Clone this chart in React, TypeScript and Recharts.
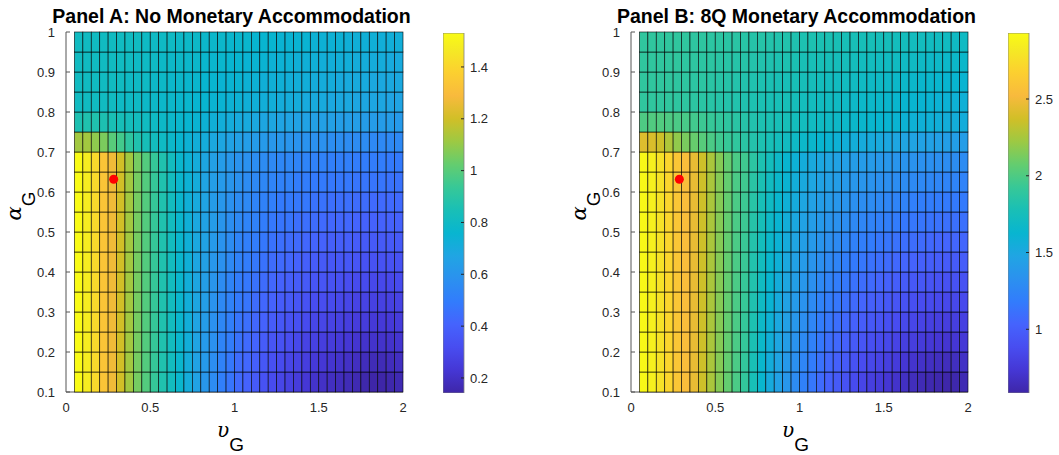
import { Bar, BarChart, Scatter, ScatterChart, XAxis, YAxis } from "recharts";

// grid of the pcolor surface (lower-left corner of every cell)
const vGrid = [0.05, 0.1, 0.15, 0.2, 0.25, 0.3, 0.35, 0.4, 0.45, 0.5, 0.55, 0.6, 0.65, 0.7, 0.75, 0.8, 0.85, 0.9, 0.95, 1, 1.05, 1.1, 1.15, 1.2, 1.25, 1.3, 1.35, 1.4, 1.45, 1.5, 1.55, 1.6, 1.65, 1.7, 1.75, 1.8, 1.85, 1.9, 1.95];
const alphaGrid = [0.1, 0.15, 0.2, 0.25, 0.3, 0.35, 0.4, 0.45, 0.5, 0.55, 0.6, 0.65, 0.7, 0.75, 0.8, 0.85, 0.9, 0.95];
const cellStep = 0.05;

const xTicks = [0, 0.5, 1, 1.5, 2];
const yTicks = [0.1, 0.2, 0.3, 0.4, 0.5, 0.6, 0.7, 0.8, 0.9, 1];

// Panel A: rows from alpha = 0.1 (bottom) to 0.95 (top)
const panelAValues: number[][] = [
  [1.53, 1.48, 1.41, 1.33, 1.27, 1.20, 1.12, 1.05, 0.99, 0.93, 0.87, 0.82, 0.77, 0.71, 0.66, 0.61, 0.56, 0.51, 0.47, 0.43, 0.40, 0.37, 0.34, 0.31, 0.29, 0.27, 0.25, 0.23, 0.21, 0.20, 0.19, 0.18, 0.17, 0.16, 0.15, 0.14, 0.14, 0.15, 0.16],
  [1.53, 1.48, 1.41, 1.33, 1.27, 1.20, 1.12, 1.05, 0.99, 0.93, 0.87, 0.82, 0.77, 0.71, 0.66, 0.62, 0.57, 0.52, 0.48, 0.44, 0.42, 0.39, 0.36, 0.33, 0.31, 0.29, 0.28, 0.26, 0.24, 0.23, 0.22, 0.21, 0.20, 0.19, 0.18, 0.17, 0.17, 0.18, 0.19],
  [1.53, 1.48, 1.41, 1.33, 1.27, 1.20, 1.12, 1.05, 0.99, 0.93, 0.87, 0.82, 0.77, 0.72, 0.67, 0.62, 0.58, 0.53, 0.50, 0.46, 0.43, 0.41, 0.38, 0.35, 0.34, 0.32, 0.30, 0.28, 0.27, 0.26, 0.25, 0.24, 0.23, 0.22, 0.21, 0.21, 0.21, 0.21, 0.22],
  [1.53, 1.48, 1.41, 1.33, 1.27, 1.20, 1.12, 1.05, 0.99, 0.93, 0.87, 0.82, 0.77, 0.72, 0.67, 0.63, 0.58, 0.54, 0.51, 0.47, 0.45, 0.42, 0.40, 0.38, 0.36, 0.34, 0.33, 0.31, 0.29, 0.29, 0.28, 0.27, 0.26, 0.25, 0.25, 0.24, 0.24, 0.24, 0.25],
  [1.53, 1.48, 1.41, 1.33, 1.27, 1.20, 1.12, 1.05, 0.99, 0.93, 0.87, 0.82, 0.77, 0.72, 0.68, 0.64, 0.59, 0.55, 0.52, 0.49, 0.47, 0.44, 0.42, 0.40, 0.38, 0.37, 0.35, 0.34, 0.32, 0.32, 0.31, 0.30, 0.29, 0.28, 0.28, 0.27, 0.27, 0.27, 0.28],
  [1.53, 1.48, 1.41, 1.33, 1.27, 1.20, 1.12, 1.05, 0.99, 0.93, 0.87, 0.82, 0.77, 0.72, 0.68, 0.64, 0.60, 0.56, 0.53, 0.50, 0.48, 0.46, 0.44, 0.42, 0.40, 0.39, 0.38, 0.37, 0.35, 0.35, 0.34, 0.33, 0.32, 0.31, 0.31, 0.30, 0.30, 0.30, 0.31],
  [1.53, 1.48, 1.41, 1.33, 1.27, 1.20, 1.12, 1.05, 0.99, 0.93, 0.87, 0.82, 0.77, 0.73, 0.68, 0.65, 0.61, 0.58, 0.55, 0.52, 0.50, 0.48, 0.46, 0.44, 0.43, 0.42, 0.40, 0.39, 0.38, 0.37, 0.36, 0.36, 0.36, 0.35, 0.34, 0.34, 0.34, 0.34, 0.34],
  [1.53, 1.48, 1.41, 1.33, 1.27, 1.20, 1.12, 1.05, 0.99, 0.93, 0.87, 0.82, 0.77, 0.73, 0.69, 0.66, 0.62, 0.59, 0.56, 0.53, 0.51, 0.50, 0.48, 0.46, 0.45, 0.44, 0.43, 0.42, 0.41, 0.40, 0.39, 0.39, 0.39, 0.38, 0.37, 0.37, 0.37, 0.37, 0.37],
  [1.53, 1.48, 1.41, 1.33, 1.27, 1.20, 1.12, 1.05, 0.99, 0.93, 0.87, 0.82, 0.77, 0.73, 0.69, 0.66, 0.63, 0.60, 0.57, 0.55, 0.53, 0.52, 0.50, 0.48, 0.47, 0.47, 0.45, 0.45, 0.44, 0.43, 0.42, 0.42, 0.42, 0.41, 0.40, 0.40, 0.40, 0.40, 0.40],
  [1.53, 1.48, 1.41, 1.33, 1.27, 1.20, 1.12, 1.05, 0.99, 0.93, 0.87, 0.82, 0.77, 0.73, 0.70, 0.67, 0.63, 0.61, 0.58, 0.56, 0.55, 0.53, 0.52, 0.51, 0.49, 0.49, 0.48, 0.48, 0.46, 0.46, 0.45, 0.45, 0.45, 0.44, 0.44, 0.43, 0.43, 0.43, 0.43],
  [1.53, 1.48, 1.41, 1.33, 1.27, 1.20, 1.12, 1.05, 0.99, 0.93, 0.87, 0.82, 0.77, 0.74, 0.71, 0.67, 0.64, 0.62, 0.60, 0.58, 0.56, 0.55, 0.54, 0.53, 0.52, 0.52, 0.50, 0.50, 0.49, 0.49, 0.48, 0.48, 0.48, 0.47, 0.47, 0.47, 0.47, 0.46, 0.46],
  [1.53, 1.48, 1.41, 1.33, 1.27, 1.20, 1.12, 1.05, 0.99, 0.93, 0.87, 0.82, 0.77, 0.74, 0.71, 0.68, 0.65, 0.63, 0.61, 0.59, 0.58, 0.57, 0.56, 0.55, 0.54, 0.54, 0.53, 0.53, 0.52, 0.52, 0.51, 0.51, 0.51, 0.50, 0.50, 0.50, 0.50, 0.49, 0.49],
  [1.12, 1.12, 1.09, 1.06, 1.00, 0.96, 0.91, 0.87, 0.84, 0.82, 0.80, 0.78, 0.76, 0.74, 0.72, 0.71, 0.69, 0.68, 0.66, 0.65, 0.64, 0.63, 0.62, 0.61, 0.61, 0.60, 0.59, 0.59, 0.58, 0.58, 0.57, 0.57, 0.56, 0.56, 0.56, 0.55, 0.55, 0.55, 0.55],
  [0.86, 0.87, 0.87, 0.86, 0.85, 0.84, 0.83, 0.82, 0.81, 0.80, 0.79, 0.78, 0.77, 0.76, 0.75, 0.74, 0.73, 0.72, 0.71, 0.70, 0.70, 0.69, 0.68, 0.68, 0.67, 0.67, 0.66, 0.66, 0.65, 0.65, 0.65, 0.64, 0.64, 0.64, 0.63, 0.63, 0.63, 0.63, 0.62],
  [0.81, 0.81, 0.81, 0.81, 0.81, 0.80, 0.80, 0.80, 0.79, 0.79, 0.78, 0.78, 0.77, 0.77, 0.76, 0.76, 0.75, 0.75, 0.74, 0.74, 0.73, 0.73, 0.72, 0.72, 0.71, 0.71, 0.71, 0.70, 0.70, 0.70, 0.69, 0.69, 0.69, 0.68, 0.68, 0.68, 0.68, 0.67, 0.67],
  [0.81, 0.81, 0.81, 0.81, 0.81, 0.81, 0.80, 0.80, 0.80, 0.79, 0.79, 0.78, 0.78, 0.77, 0.77, 0.76, 0.76, 0.75, 0.75, 0.75, 0.74, 0.74, 0.73, 0.73, 0.73, 0.72, 0.72, 0.72, 0.71, 0.71, 0.71, 0.70, 0.70, 0.70, 0.70, 0.69, 0.69, 0.69, 0.69],
  [0.81, 0.81, 0.81, 0.81, 0.81, 0.81, 0.81, 0.80, 0.80, 0.80, 0.79, 0.79, 0.79, 0.78, 0.78, 0.77, 0.77, 0.77, 0.76, 0.76, 0.75, 0.75, 0.75, 0.74, 0.74, 0.74, 0.73, 0.73, 0.73, 0.72, 0.72, 0.72, 0.72, 0.71, 0.71, 0.71, 0.71, 0.70, 0.70],
  [0.81, 0.81, 0.81, 0.81, 0.81, 0.81, 0.81, 0.81, 0.80, 0.80, 0.80, 0.80, 0.79, 0.79, 0.79, 0.78, 0.78, 0.78, 0.77, 0.77, 0.77, 0.76, 0.76, 0.76, 0.75, 0.75, 0.75, 0.75, 0.74, 0.74, 0.74, 0.74, 0.73, 0.73, 0.73, 0.73, 0.72, 0.72, 0.72],
];

// Panel B: rows from alpha = 0.1 (bottom) to 0.95 (top)
const panelBValues: number[][] = [
  [2.91, 2.86, 2.78, 2.70, 2.60, 2.54, 2.46, 2.36, 2.26, 2.16, 2.07, 1.99, 1.90, 1.77, 1.64, 1.53, 1.45, 1.37, 1.29, 1.22, 1.15, 1.08, 1.02, 0.97, 0.92, 0.87, 0.83, 0.79, 0.76, 0.73, 0.70, 0.67, 0.65, 0.63, 0.61, 0.60, 0.59, 0.60, 0.62],
  [2.91, 2.86, 2.78, 2.70, 2.60, 2.54, 2.46, 2.36, 2.26, 2.16, 2.07, 1.99, 1.90, 1.78, 1.65, 1.55, 1.47, 1.39, 1.32, 1.25, 1.18, 1.12, 1.06, 1.01, 0.97, 0.92, 0.88, 0.85, 0.82, 0.79, 0.76, 0.73, 0.71, 0.69, 0.67, 0.66, 0.65, 0.66, 0.68],
  [2.91, 2.86, 2.78, 2.70, 2.60, 2.54, 2.46, 2.36, 2.26, 2.16, 2.07, 1.99, 1.91, 1.79, 1.67, 1.57, 1.49, 1.42, 1.34, 1.28, 1.22, 1.16, 1.10, 1.06, 1.01, 0.97, 0.94, 0.90, 0.87, 0.85, 0.82, 0.79, 0.78, 0.76, 0.74, 0.73, 0.72, 0.73, 0.74],
  [2.91, 2.86, 2.78, 2.70, 2.60, 2.54, 2.46, 2.36, 2.26, 2.16, 2.07, 1.99, 1.91, 1.80, 1.68, 1.59, 1.51, 1.44, 1.37, 1.31, 1.25, 1.19, 1.15, 1.10, 1.06, 1.02, 0.99, 0.96, 0.93, 0.90, 0.88, 0.86, 0.84, 0.82, 0.80, 0.79, 0.78, 0.79, 0.80],
  [2.91, 2.86, 2.78, 2.70, 2.60, 2.54, 2.46, 2.36, 2.26, 2.16, 2.07, 1.99, 1.92, 1.81, 1.70, 1.61, 1.53, 1.46, 1.40, 1.34, 1.28, 1.23, 1.19, 1.15, 1.11, 1.07, 1.04, 1.01, 0.99, 0.96, 0.94, 0.92, 0.90, 0.88, 0.87, 0.86, 0.85, 0.85, 0.86],
  [2.91, 2.86, 2.78, 2.70, 2.60, 2.54, 2.46, 2.36, 2.26, 2.16, 2.07, 1.99, 1.92, 1.82, 1.71, 1.63, 1.55, 1.49, 1.43, 1.37, 1.32, 1.27, 1.23, 1.19, 1.16, 1.12, 1.09, 1.07, 1.04, 1.02, 1.00, 0.98, 0.96, 0.95, 0.93, 0.92, 0.91, 0.92, 0.92],
  [2.91, 2.86, 2.78, 2.70, 2.60, 2.54, 2.46, 2.36, 2.26, 2.16, 2.07, 1.99, 1.93, 1.82, 1.73, 1.64, 1.58, 1.51, 1.45, 1.40, 1.35, 1.31, 1.27, 1.24, 1.20, 1.17, 1.15, 1.12, 1.10, 1.08, 1.06, 1.04, 1.03, 1.01, 1.00, 0.99, 0.98, 0.98, 0.99],
  [2.91, 2.86, 2.78, 2.70, 2.60, 2.54, 2.46, 2.36, 2.26, 2.16, 2.07, 1.99, 1.93, 1.83, 1.74, 1.66, 1.60, 1.54, 1.48, 1.43, 1.39, 1.35, 1.31, 1.28, 1.25, 1.22, 1.20, 1.18, 1.15, 1.14, 1.12, 1.10, 1.09, 1.08, 1.06, 1.05, 1.04, 1.05, 1.05],
  [2.91, 2.86, 2.78, 2.70, 2.60, 2.54, 2.46, 2.36, 2.26, 2.16, 2.07, 1.99, 1.94, 1.84, 1.76, 1.68, 1.62, 1.56, 1.51, 1.46, 1.42, 1.39, 1.35, 1.33, 1.30, 1.27, 1.25, 1.23, 1.21, 1.20, 1.18, 1.16, 1.15, 1.14, 1.13, 1.12, 1.11, 1.11, 1.11],
  [2.91, 2.86, 2.78, 2.70, 2.60, 2.54, 2.46, 2.36, 2.26, 2.16, 2.07, 1.99, 1.94, 1.85, 1.77, 1.70, 1.64, 1.58, 1.54, 1.49, 1.45, 1.42, 1.40, 1.37, 1.35, 1.32, 1.30, 1.29, 1.27, 1.25, 1.24, 1.23, 1.21, 1.20, 1.19, 1.18, 1.17, 1.17, 1.17],
  [2.91, 2.86, 2.78, 2.70, 2.60, 2.54, 2.46, 2.36, 2.26, 2.16, 2.07, 1.99, 1.95, 1.86, 1.79, 1.72, 1.66, 1.61, 1.56, 1.52, 1.49, 1.46, 1.44, 1.42, 1.39, 1.37, 1.36, 1.34, 1.32, 1.31, 1.30, 1.29, 1.28, 1.27, 1.26, 1.25, 1.24, 1.24, 1.23],
  [2.91, 2.86, 2.78, 2.70, 2.60, 2.54, 2.46, 2.36, 2.26, 2.16, 2.07, 1.99, 1.95, 1.87, 1.80, 1.74, 1.68, 1.63, 1.59, 1.55, 1.52, 1.50, 1.48, 1.46, 1.44, 1.42, 1.41, 1.40, 1.38, 1.37, 1.36, 1.35, 1.34, 1.33, 1.32, 1.31, 1.30, 1.30, 1.29],
  [2.42, 2.40, 2.36, 2.27, 2.19, 2.13, 2.08, 2.03, 1.99, 1.95, 1.92, 1.89, 1.86, 1.83, 1.80, 1.77, 1.74, 1.72, 1.69, 1.67, 1.65, 1.63, 1.61, 1.59, 1.57, 1.56, 1.54, 1.53, 1.52, 1.50, 1.49, 1.48, 1.47, 1.46, 1.45, 1.44, 1.43, 1.43, 1.42],
  [2.00, 2.01, 2.01, 2.00, 1.99, 1.98, 1.96, 1.94, 1.92, 1.90, 1.88, 1.86, 1.84, 1.82, 1.80, 1.79, 1.77, 1.76, 1.74, 1.73, 1.71, 1.70, 1.69, 1.68, 1.67, 1.66, 1.65, 1.64, 1.63, 1.62, 1.61, 1.60, 1.59, 1.58, 1.58, 1.57, 1.56, 1.56, 1.55],
  [1.89, 1.89, 1.89, 1.89, 1.88, 1.88, 1.87, 1.86, 1.85, 1.84, 1.83, 1.82, 1.81, 1.80, 1.79, 1.78, 1.77, 1.76, 1.75, 1.74, 1.73, 1.72, 1.71, 1.70, 1.69, 1.68, 1.67, 1.67, 1.66, 1.65, 1.64, 1.63, 1.63, 1.62, 1.61, 1.60, 1.60, 1.59, 1.58],
  [1.89, 1.89, 1.89, 1.89, 1.88, 1.88, 1.87, 1.87, 1.86, 1.85, 1.84, 1.83, 1.82, 1.81, 1.80, 1.79, 1.78, 1.77, 1.77, 1.76, 1.75, 1.74, 1.73, 1.72, 1.72, 1.71, 1.70, 1.69, 1.69, 1.68, 1.67, 1.67, 1.66, 1.65, 1.65, 1.64, 1.63, 1.63, 1.62],
  [1.89, 1.89, 1.89, 1.89, 1.89, 1.88, 1.88, 1.87, 1.87, 1.86, 1.85, 1.84, 1.84, 1.83, 1.82, 1.81, 1.80, 1.80, 1.79, 1.78, 1.77, 1.77, 1.76, 1.75, 1.75, 1.74, 1.73, 1.73, 1.72, 1.71, 1.71, 1.70, 1.70, 1.69, 1.68, 1.68, 1.67, 1.67, 1.66],
  [1.89, 1.89, 1.89, 1.89, 1.89, 1.89, 1.88, 1.88, 1.87, 1.87, 1.86, 1.86, 1.85, 1.84, 1.84, 1.83, 1.82, 1.82, 1.81, 1.80, 1.80, 1.79, 1.79, 1.78, 1.77, 1.77, 1.76, 1.76, 1.75, 1.75, 1.74, 1.74, 1.73, 1.73, 1.72, 1.72, 1.71, 1.70, 1.70],
];

const cbRangeA = [0.142, 1.531];
const cbRangeB = [0.585, 2.93];
const cbTicksA = [0.2, 0.4, 0.6, 0.8, 1, 1.2, 1.4];
const cbTicksB = [1, 1.5, 2, 2.5];

const markerA = { x: 0.283, y: 0.632 };
const markerB = { x: 0.287, y: 0.632 };

// parula colormap (sampled from MATLAB's 64-entry table)
const parulaStops: [number, number, number, number][] = [
  [0 / 63, 0.2422, 0.1504, 0.6603],
  [4 / 63, 0.2706, 0.2147, 0.8364],
  [8 / 63, 0.2813, 0.3006, 0.9414],
  [12 / 63, 0.2699, 0.3892, 0.9906],
  [16 / 63, 0.1963, 0.4847, 0.9892],
  [20 / 63, 0.1687, 0.5703, 0.9359],
  [24 / 63, 0.1248, 0.6459, 0.8883],
  [28 / 63, 0.0297, 0.7082, 0.8163],
  [32 / 63, 0.0964, 0.75, 0.712],
  [36 / 63, 0.2161, 0.7843, 0.5923],
  [40 / 63, 0.3909, 0.8029, 0.4354],
  [44 / 63, 0.6174, 0.7876, 0.2612],
  [48 / 63, 0.8203, 0.7498, 0.1535],
  [52 / 63, 0.9728, 0.7298, 0.2394],
  [56 / 63, 0.9892, 0.8136, 0.1885],
  [60 / 63, 0.9597, 0.9135, 0.1423],
  [63 / 63, 0.9769, 0.9839, 0.0805],
];

function parula(t: number) {
  const u = Math.min(1, Math.max(0, t));
  let i = 0;
  while (i < parulaStops.length - 2 && parulaStops[i + 1][0] < u) i++;
  const a = parulaStops[i];
  const b = parulaStops[i + 1];
  const f = (u - a[0]) / (b[0] - a[0]);
  const ch = (k: number) => Math.round(255 * (a[k] + (b[k] - a[k]) * f));
  return `rgb(${ch(1)},${ch(2)},${ch(3)})`;
}

const FONT = "'Liberation Sans', Arial, Helvetica, sans-serif";
const W = 430;
const H = 455;
const margin = { top: 32, right: 27, bottom: 33, left: 26 };
const yAxisW = 40;
const xAxisH = 30;
const plotW = W - margin.left - margin.right - yAxisW;
const plotH = H - margin.top - margin.bottom - xAxisH;
const cellW = (plotW / 2) * cellStep;
const cellH = (plotH / 0.9) * cellStep;

const tickStyle = { fontSize: 13, fill: "#262626", fontFamily: FONT };

function HeatPanel({
  left,
  title,
  values,
  range,
  marker,
}: {
  left: number;
  title: string;
  values: number[][];
  range: number[];
  marker: { x: number; y: number };
}) {
  const cells = values.flatMap((row, i) =>
    row.map((v, j) => ({ x: vGrid[j] + cellStep / 2, y: alphaGrid[i] + cellStep / 2, v }))
  );
  const [lo, hi] = range;
  const cx = margin.left + yAxisW + plotW / 2;
  return (
    <div style={{ position: "absolute", left, top: 0, width: W, height: H }}>
      <ScatterChart width={W} height={H} margin={margin}>
        <XAxis
          type="number"
          dataKey="x"
          domain={[0, 2]}
          ticks={xTicks}
          height={xAxisH}
          tickLine={false}
          tickSize={-4}
          tickMargin={15}
          tick={tickStyle}
          axisLine={{ stroke: "#555", strokeWidth: 1 }}
        />
        <YAxis
          type="number"
          dataKey="y"
          domain={[0.1, 1]}
          ticks={yTicks}
          width={yAxisW}
          tickSize={-4}
          tickMargin={15}
          tick={tickStyle}
          tickLine={{ stroke: "#555" }}
          axisLine={{ stroke: "#555", strokeWidth: 1 }}
        />
        <Scatter
          data={cells}
          isAnimationActive={false}
          shape={(p: any) => (
            <rect
              x={p.cx - cellW / 2}
              y={p.cy - cellH / 2}
              width={cellW}
              height={cellH}
              fill={parula((p.payload.v - lo) / (hi - lo))}
              stroke="#000"
              strokeWidth={0.7}
              strokeOpacity={0.85}
            />
          )}
        />
        <Scatter
          data={[marker]}
          isAnimationActive={false}
          shape={(p: any) => <circle cx={p.cx} cy={p.cy} r={4.5} fill="#ff0000" />}
        />
      </ScatterChart>
      <svg width={W} height={H} style={{ position: "absolute", left: 0, top: 0, pointerEvents: "none" }}>
        <text x={cx - 3} y={23} textAnchor="middle" fontFamily={FONT} fontWeight="bold" fontSize={19.5} fill="#000">
          {title}
        </text>
        <text x={cx - 4} y={437} textAnchor="middle" fill="#000">
          <tspan fontFamily="'DejaVu Serif', serif" fontStyle="italic" fontSize={20}>
            υ
          </tspan>
          <tspan fontFamily={FONT} fontSize={19} dy={14}>
            G
          </tspan>
        </text>
        <text transform="translate(21, 206) rotate(-90)" textAnchor="middle" fill="#000">
          <tspan fontFamily="'DejaVu Serif', serif" fontStyle="italic" fontSize={21}>
            α
          </tspan>
          <tspan fontFamily={FONT} fontSize={19} dy={14}>
            G
          </tspan>
        </text>
      </svg>
    </div>
  );
}

function ColorBar({ left, range, ticks, id }: { left: number; range: number[]; ticks: number[]; id: string }) {
  const cbData = [{ k: "cb", r: range }];
  return (
    <div style={{ position: "absolute", left, top: 0 }}>
      <BarChart width={66} height={H} data={cbData} margin={{ top: 33, right: 0, bottom: 62, left: 0 }} barCategoryGap={0}>
        <defs>
          <linearGradient id={id} x1="0" y1="1" x2="0" y2="0">
            {parulaStops.map((s, i) => (
              <stop
                key={i}
                offset={`${(s[0] * 100).toFixed(2)}%`}
                stopColor={`rgb(${Math.round(s[1] * 255)},${Math.round(s[2] * 255)},${Math.round(s[3] * 255)})`}
              />
            ))}
          </linearGradient>
        </defs>
        <XAxis dataKey="k" hide />
        <YAxis
          orientation="right"
          type="number"
          domain={range}
          allowDataOverflow
          ticks={ticks}
          width={45}
          tickSize={-3}
          tickMargin={9}
          tick={tickStyle}
          tickLine={{ stroke: "#262626" }}
          axisLine={false}
        />
        <Bar dataKey="r" fill={`url(#${id})`} stroke="#808080" strokeWidth={0.8} isAnimationActive={false} />
      </BarChart>
    </div>
  );
}

export default function App() {
  return (
    <div style={{ position: "fixed", left: 0, top: 0, width: 1059, height: 455, background: "#fff", fontFamily: FONT }}>
      <HeatPanel left={0} title="Panel A: No Monetary Accommodation" values={panelAValues} range={cbRangeA} marker={markerA} />
      <ColorBar left={443} range={cbRangeA} ticks={cbTicksA} id="cbA" />
      <HeatPanel left={565} title="Panel B: 8Q Monetary Accommodation" values={panelBValues} range={cbRangeB} marker={markerB} />
      <ColorBar left={1008} range={cbRangeB} ticks={cbTicksB} id="cbB" />
    </div>
  );
}
